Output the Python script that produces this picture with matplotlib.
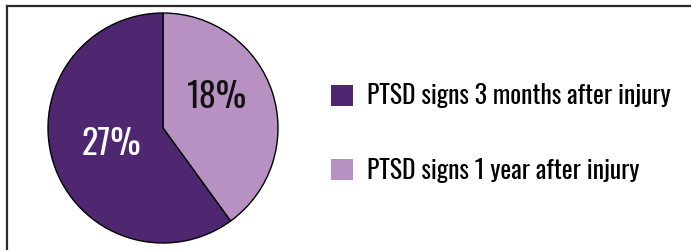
import matplotlib
matplotlib.use("Agg")
import matplotlib.pyplot as plt
from matplotlib import font_manager
from matplotlib.textpath import TextPath
from matplotlib.font_manager import FontProperties

# data
values = [18, 27]
value_labels = ["18%", "27%"]
label_colors = ["#111111", "white"]
colors = ["#B891C3", "#4F2670"]
legend_labels = ["PTSD signs 3 months after injury", "PTSD signs 1 year after injury"]

names = set(f.name for f in font_manager.fontManager.ttflist)
family = "DejaVu Sans"
for cand in ["Oswald", "Roboto Condensed", "Barlow Condensed"]:
    if cand in names:
        family = cand
        break
plt.rcParams["font.family"] = [family, "DejaVu Sans"]
WEIGHT = "light"


def size_for_cap(cap_px):
    # font size in points that gives a capital height of cap_px pixels at 100 dpi
    fp = FontProperties(family=family, weight=WEIGHT)
    ratio = TextPath((0, 0), "H", size=1, prop=fp).get_extents().height
    return cap_px / ratio * 0.72


W, H = 691, 250
fig = plt.figure(figsize=(W / 100.0, H / 100.0), dpi=100)

# pie: centre (163,128) px, radius 115 px
cx, cy, r = 163, 128, 115
ax = fig.add_axes([(cx - r) / W, (H - cy - r) / H, 2 * r / W, 2 * r / H])
wedges, _ = ax.pie(values, colors=colors, startangle=90, counterclock=False,
                   wedgeprops=dict(edgecolor="black", linewidth=1.0))
ax.set_xlim(-1, 1)
ax.set_ylim(-1, 1)
ax.set_aspect("equal")

label_pos = [(0.47, 0.27), (-0.45, -0.14)]
for txt, col, (x, y) in zip(value_labels, label_colors, label_pos):
    ax.text(x, y, txt, color=col, fontsize=size_for_cap(27.5), fontweight=WEIGHT,
            ha="center", va="center")

# legend, dark first
fs = size_for_cap(20.8)
px = 0.72 / fs  # one pixel in font-size units
leg = fig.legend([wedges[1], wedges[0]], legend_labels,
                 loc="center left", bbox_to_anchor=(331 / W, 1 - 133.5 / H),
                 frameon=False, prop=FontProperties(family=family, weight=WEIGHT, size=fs),
                 handlelength=22 * px, handleheight=22 * px,
                 handletextpad=14 * px, labelspacing=1.6 + 7 * px, borderpad=0, borderaxespad=0)
for h in leg.legend_handles:
    h.set_edgecolor("none")

# frame lines at top and left only
fig.add_artist(plt.Line2D([6.5 / W, 1], [1 - 6 / H, 1 - 6 / H], color="#2b2b2b", linewidth=1.6))
fig.add_artist(plt.Line2D([7 / W, 7 / W], [0, 1 - 6 / H], color="#2b2b2b", linewidth=1.6))

fig.savefig("out.png", dpi=100)
